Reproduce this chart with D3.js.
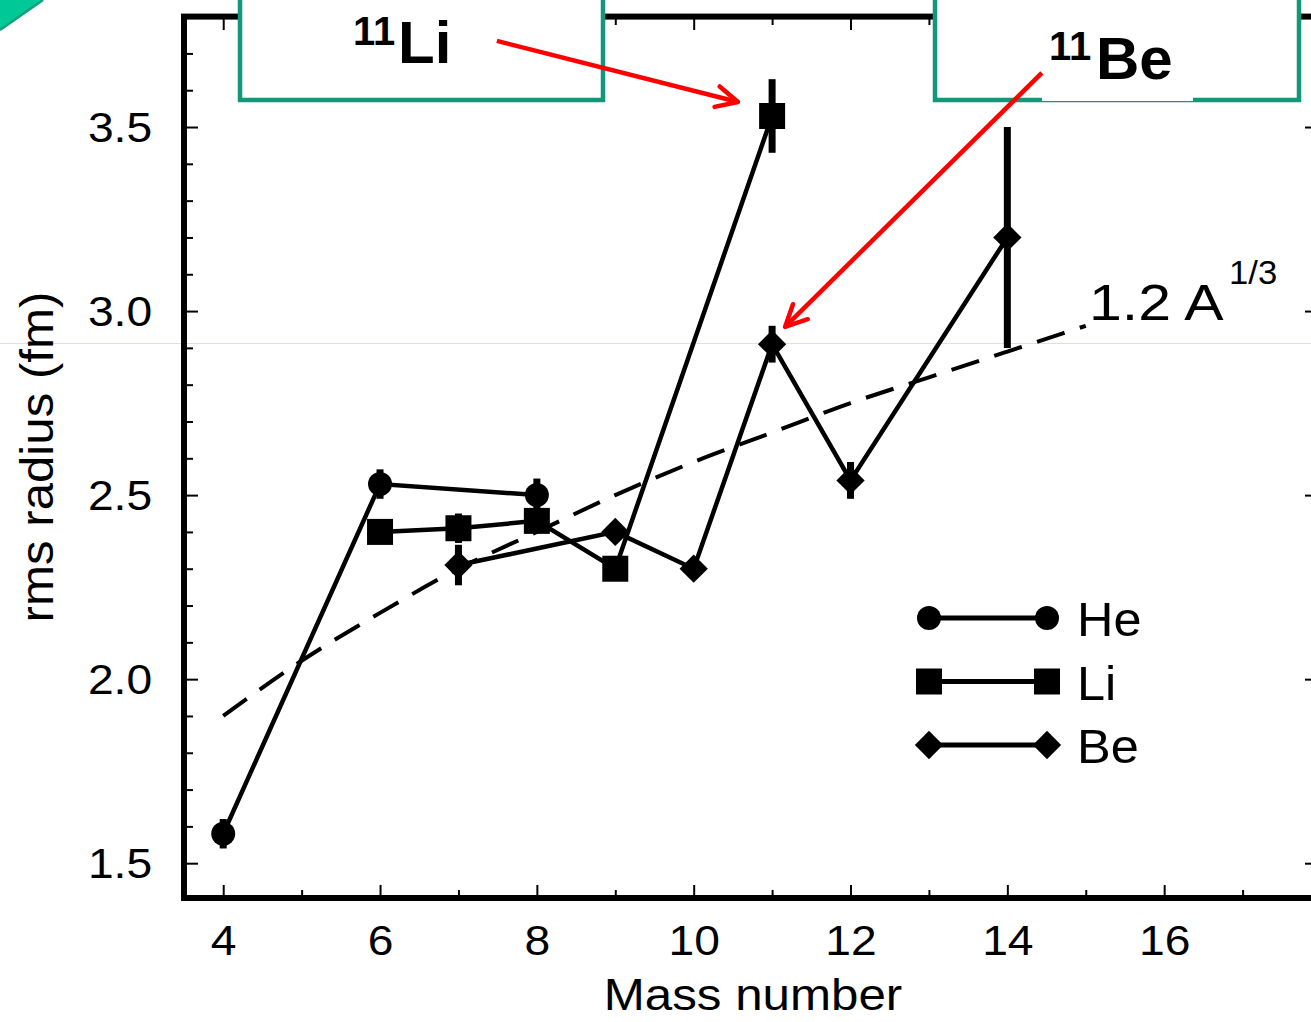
<!DOCTYPE html>
<html>
<head>
<meta charset="utf-8">
<script src="https://cdn.jsdelivr.net/npm/d3@7"></script>
<style>
body { margin: 0; background: #fff; }
svg { display: block; font-family: "Liberation Sans", Arial, Helvetica, sans-serif; }
</style>
</head>
<body>
<div id="chart"></div>
<script>
// rms radii (fm)
var heMass = [4, 6, 8];
var heRadius = [1.58, 2.53, 2.50];
var heError = [0.04, 0.04, 0.045];

var liMass = [6, 7, 8, 9, 11];
var liRadius = [2.40, 2.41, 2.43, 2.30, 3.53];
var liError = [0.02, 0.04, 0.02, 0.02, 0.10];

var beMass = [7, 9, 10, 11, 12, 14];
var beRadius = [2.31, 2.40, 2.30, 2.91, 2.54, 3.20];
var beError = [0.055, 0.02, 0.02, 0.05, 0.05, 0.30];

// dashed 1.2 A^1/3 curve, read at integer A
var fitMass = [4, 5, 6, 7, 8, 9, 10, 11, 12, 13, 14, 15];
var fitRadius = [1.90, 2.05, 2.18, 2.30, 2.40, 2.50, 2.59, 2.67, 2.75, 2.82, 2.89, 2.96];

var xMajor = [4, 6, 8, 10, 12, 14, 16];
var xMinor = [5, 7, 9, 11, 13, 15, 17];
var yMajor = [1.5, 2.0, 2.5, 3.0, 3.5];
var yMinor = [1.6, 1.7, 1.8, 1.9, 2.1, 2.2, 2.3, 2.4, 2.6, 2.7, 2.8, 2.9, 3.1, 3.2, 3.3, 3.4, 3.6, 3.7];

var legendNames = ["He", "Li", "Be"];

var width = 1311;
var height = 1022;

var svg = d3.select("#chart")
    .append("svg")
    .attr("width", width)
    .attr("height", height);

var x = d3.scaleLinear().domain([3.5, 18]).range([184, 1321]);
var y = d3.scaleLinear().domain([1.4, 3.8]).range([900, 16.6]);

// faint scan line across the slide
svg.append("line")
    .attr("x1", 0).attr("x2", width)
    .attr("y1", 343.5).attr("y2", 343.5)
    .attr("stroke", "#e2dcf2")
    .attr("stroke-width", 1);

// corner of the slide decoration
svg.append("polygon")
    .attr("points", "0,0 43,0 0,30")
    .attr("fill", "#00c896");
svg.append("line")
    .attr("x1", 43).attr("y1", 0).attr("x2", 0).attr("y2", 30)
    .attr("stroke", "#12a07e")
    .attr("stroke-width", 2.5);

// frame
svg.append("rect")
    .attr("x", x(3.5))
    .attr("y", y(3.8))
    .attr("width", x(18) - x(3.5))
    .attr("height", y(1.4) - y(3.8) - 2)
    .attr("fill", "none")
    .attr("stroke", "#000")
    .attr("stroke-width", 6);

function styleAxis(g) {
    g.select(".domain").remove();
    g.selectAll(".tick line").attr("stroke", "#000").attr("stroke-width", 2);
}

var axisB = svg.append("g").attr("transform", "translate(0,898)");
axisB.append("g")
    .call(d3.axisBottom(x).tickValues(xMajor).tickSize(-13).tickPadding(27).tickFormat(d3.format("d")))
    .call(styleAxis)
    .selectAll("text")
    .attr("font-size", 42)
    .attr("font-family", "Liberation Sans, Arial, sans-serif")
    .attr("fill", "#000")
    .attr("transform", "scale(1.1,1)");
axisB.append("g")
    .call(d3.axisBottom(x).tickValues(xMinor).tickSize(-8).tickFormat(""))
    .call(styleAxis);

var axisT = svg.append("g").attr("transform", "translate(0,16)");
axisT.append("g")
    .call(d3.axisTop(x).tickValues(xMajor).tickSize(-14).tickFormat(""))
    .call(styleAxis);
axisT.append("g")
    .call(d3.axisTop(x).tickValues(xMinor).tickSize(-9).tickFormat(""))
    .call(styleAxis);

var axisL = svg.append("g").attr("transform", "translate(184,0)");
axisL.append("g")
    .call(d3.axisLeft(y).tickValues(yMajor).tickSize(-14).tickPadding(29).tickFormat(d3.format(".1f")))
    .call(styleAxis)
    .selectAll("text")
    .attr("font-size", 42)
    .attr("font-family", "Liberation Sans, Arial, sans-serif")
    .attr("fill", "#000")
    .attr("dy", "0.35em")
    .attr("transform", "scale(1.1,1)");
axisL.append("g")
    .call(d3.axisLeft(y).tickValues(yMinor).tickSize(-9).tickFormat(""))
    .call(styleAxis);

var axisR = svg.append("g").attr("transform", "translate(1321,0)");
axisR.append("g")
    .call(d3.axisRight(y).tickValues(yMajor).tickSize(-16).tickFormat(""))
    .call(styleAxis);
axisR.append("g")
    .call(d3.axisRight(y).tickValues(yMinor).tickSize(-8).tickFormat(""))
    .call(styleAxis);

// axis titles
svg.append("text")
    .attr("transform", "translate(753,1010) scale(1.12,1)")
    .attr("text-anchor", "middle")
    .attr("font-size", 44)
    .text("Mass number");

svg.append("text")
    .attr("transform", "translate(53,457) rotate(-90) scale(1.07,1)")
    .attr("text-anchor", "middle")
    .attr("font-size", 46)
    .text("rms radius (fm)");

// dashed 1.2 A^1/3 line
var fitLine = d3.line()
    .x(function(d, i) { return x(fitMass[i]); })
    .y(function(d) { return y(d); })
    .curve(d3.curveMonotoneX);

svg.append("path")
    .attr("d", fitLine(fitRadius))
    .attr("fill", "none")
    .attr("stroke", "#000")
    .attr("stroke-width", 4)
    .attr("stroke-dasharray", "29,16");

svg.append("text")
    .attr("transform", "translate(1089,320) scale(1.18,1)")
    .attr("font-size", 50)
    .text("1.2 A");
svg.append("text")
    .attr("transform", "translate(1229,284) scale(1.05,1)")
    .attr("font-size", 33)
    .text("1/3");

// series
var circleSym = d3.symbol().type(d3.symbolCircle).size(Math.PI * 12 * 12);
var squareSym = d3.symbol().type(d3.symbolSquare).size(26 * 26);
var diamondSym = d3.symbol().type(d3.symbolSquare).size(20 * 20);

var series = [
    {mass: heMass, radius: heRadius, err: heError, sym: circleSym, rot: 0},
    {mass: liMass, radius: liRadius, err: liError, sym: squareSym, rot: 0},
    {mass: beMass, radius: beRadius, err: beError, sym: diamondSym, rot: 45}
];

var dataLine = d3.line()
    .x(function(d) { return d[0]; })
    .y(function(d) { return d[1]; });

series.forEach(function(s) {
    var pts = s.mass.map(function(m, i) { return [x(m), y(s.radius[i])]; });
    var g = svg.append("g");

    g.append("path")
        .attr("d", dataLine(pts))
        .attr("fill", "none")
        .attr("stroke", "#000")
        .attr("stroke-width", 4.5);

    g.selectAll("line.err")
        .data(s.mass)
        .enter()
        .append("line")
        .attr("class", "err")
        .attr("x1", function(m) { return x(m); })
        .attr("x2", function(m) { return x(m); })
        .attr("y1", function(m, i) { return y(s.radius[i] + s.err[i]); })
        .attr("y2", function(m, i) { return y(s.radius[i] - s.err[i]); })
        .attr("stroke", "#000")
        .attr("stroke-width", 7);

    g.selectAll("path.mark")
        .data(s.mass)
        .enter()
        .append("path")
        .attr("class", "mark")
        .attr("d", s.sym)
        .attr("transform", function(m, i) {
            return "translate(" + x(m) + "," + y(s.radius[i]) + ") rotate(" + s.rot + ")";
        })
        .attr("fill", "#000");
});

// legend
var legend = svg.append("g").attr("class", "legend");
legendNames.forEach(function(name, i) {
    var ly = 618 + i * 63.5;
    var s = series[i];
    legend.append("line")
        .attr("x1", 929).attr("x2", 1047)
        .attr("y1", ly).attr("y2", ly)
        .attr("stroke", "#000")
        .attr("stroke-width", 5);
    [929, 1047].forEach(function(lx) {
        legend.append("path")
            .attr("d", s.sym)
            .attr("transform", "translate(" + lx + "," + ly + ") rotate(" + s.rot + ")")
            .attr("fill", "#000");
    });
    legend.append("text")
        .attr("transform", "translate(1077," + (ly + 18) + ") scale(1.03,1)")
        .attr("font-size", 49)
        .text(name);
});

// slide overlay boxes
var boxColor = "#13977a";
svg.append("rect")
    .attr("x", 240).attr("y", -10)
    .attr("width", 363).attr("height", 110)
    .attr("fill", "#fff")
    .attr("stroke", boxColor)
    .attr("stroke-width", 4.5);
svg.append("rect")
    .attr("x", 935).attr("y", -10)
    .attr("width", 364).attr("height", 110)
    .attr("fill", "#fff")
    .attr("stroke", boxColor)
    .attr("stroke-width", 4.5);
svg.append("rect")
    .attr("x", 1042).attr("y", 96)
    .attr("width", 151).attr("height", 5)
    .attr("fill", "#fff");

svg.append("text")
    .attr("x", 353).attr("y", 45)
    .attr("font-size", 40).attr("font-weight", "bold")
    .text("11");
svg.append("text")
    .attr("x", 398).attr("y", 63)
    .attr("font-size", 60).attr("font-weight", "bold")
    .text("Li");
svg.append("text")
    .attr("x", 1049).attr("y", 60)
    .attr("font-size", 40).attr("font-weight", "bold")
    .text("11");
svg.append("text")
    .attr("x", 1096).attr("y", 79)
    .attr("font-size", 60).attr("font-weight", "bold")
    .text("Be");

// red arrows, in data coordinates
var arrows = [
    {from: [7.49, 3.734], to: [10.565, 3.568]},
    {from: [14.44, 3.647], to: [11.165, 2.957]}
];
arrows.forEach(function(a) {
    var x1 = x(a.from[0]), y1 = y(a.from[1]);
    var x2 = x(a.to[0]), y2 = y(a.to[1]);
    var ang = Math.atan2(y1 - y2, x1 - x2);
    var len = 24, spread = 26 * Math.PI / 180;
    svg.append("line")
        .attr("x1", x1).attr("y1", y1)
        .attr("x2", x2).attr("y2", y2)
        .attr("stroke", "#ff0000")
        .attr("stroke-width", 4.5);
    svg.append("path")
        .attr("d", "M" + (x2 + len * Math.cos(ang - spread)) + "," + (y2 + len * Math.sin(ang - spread)) +
            "L" + x2 + "," + y2 +
            "L" + (x2 + len * Math.cos(ang + spread)) + "," + (y2 + len * Math.sin(ang + spread)))
        .attr("fill", "none")
        .attr("stroke", "#ff0000")
        .attr("stroke-width", 4.5)
        .attr("stroke-linecap", "round")
        .attr("stroke-linejoin", "round");
});
</script>
</body>
</html>
